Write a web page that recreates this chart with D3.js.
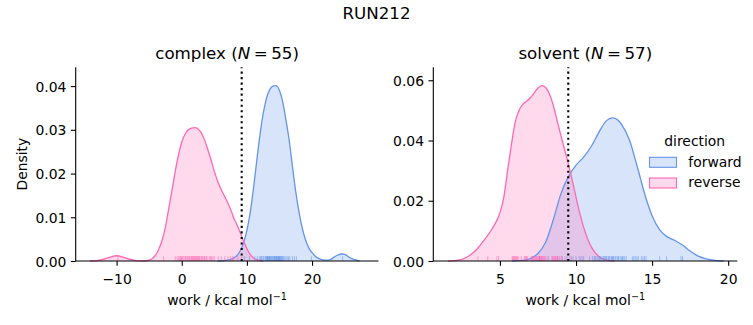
<!DOCTYPE html>
<html>
<head>
<meta charset="utf-8">
<script src="https://cdn.jsdelivr.net/npm/d3@7"></script>
<style>
  html, body { margin: 0; padding: 0; background: #fff; }
  svg { display: block; font-family: "DejaVu Sans", sans-serif; }
</style>
</head>
<body>
<svg id="chart" width="753" height="325"></svg>
<script>
// ---------------- DATA ----------------
const figureTitle = "RUN212";
const panelNames = ["complex", "solvent"];
const panelN = [55, 57];
const directions = ["forward", "reverse"];
const directionColors = ["#6495ED", "#FF69B4"];
const verticalLineX = [9.2, 9.49];

const complexXTicks = [-10, 0, 10, 20];
const complexYTicks = [0.00, 0.01, 0.02, 0.03, 0.04];
const solventXTicks = [5, 10, 15, 20];
const solventYTicks = [0.00, 0.02, 0.04, 0.06];

// KDE curves (work value, density)
const complexForwardX = [5.5, 6.5, 7.5, 8, 8.5, 9, 9.5, 10, 10.5, 11, 11.5, 12, 12.5, 13, 13.5, 14, 14.4, 15, 15.5, 16, 16.5, 17, 17.5, 18, 18.5, 19, 19.5, 20, 20.5, 21, 21.5, 22, 22.5, 23, 23.5, 24, 24.6, 25, 25.5, 26, 26.5, 27.3];
const complexForwardD = [0, 0.0001, 0.0004, 0.0007, 0.0013, 0.0024, 0.0042, 0.0070, 0.0110, 0.0165, 0.0228, 0.0288, 0.0337, 0.0372, 0.0392, 0.0400, 0.0401, 0.0390, 0.0364, 0.0322, 0.0275, 0.0215, 0.0158, 0.0112, 0.0075, 0.0048, 0.0030, 0.0019, 0.0011, 0.0006, 0.0003, 0.0002, 0.0002, 0.0005, 0.0010, 0.0014, 0.0016, 0.0015, 0.0011, 0.0006, 0.0003, 0];

const complexReverseX = [-14.1, -13, -12, -11, -10, -9, -8, -7, -6, -5, -4, -3.5, -3, -2.5, -2, -1.5, -1, -0.5, 0, 0.5, 1, 1.5, 2, 2.5, 3, 3.5, 4, 4.5, 5, 5.5, 6, 6.5, 7, 7.5, 8, 8.5, 9, 9.5, 10, 10.5, 11, 11.5, 12.5];
const complexReverseD = [0, 0.0001, 0.0004, 0.0009, 0.0012, 0.0009, 0.0004, 0.0001, 0.0000, 0.0002, 0.0014, 0.0028, 0.0048, 0.0078, 0.0120, 0.0162, 0.0205, 0.0243, 0.0272, 0.0290, 0.0300, 0.0304, 0.0305, 0.0302, 0.0293, 0.0277, 0.0255, 0.0231, 0.0205, 0.0183, 0.0165, 0.0150, 0.0135, 0.0118, 0.0098, 0.0082, 0.0064, 0.0045, 0.0028, 0.0015, 0.0007, 0.0003, 0];

const solventForwardX = [5.8, 6.5, 7, 7.5, 8, 8.5, 9, 9.5, 10, 10.5, 11, 11.5, 12, 12.4, 12.75, 13, 13.5, 14, 14.5, 15, 15.5, 16, 16.5, 17, 17.5, 18, 18.5, 19, 19.7];
const solventForwardD = [0, 0.0002, 0.0008, 0.0025, 0.0062, 0.0136, 0.0222, 0.0280, 0.0318, 0.0345, 0.0380, 0.0427, 0.0466, 0.0475, 0.0468, 0.0453, 0.0403, 0.0318, 0.0225, 0.0150, 0.0103, 0.0080, 0.0068, 0.0053, 0.0033, 0.0017, 0.0008, 0.0003, 0];

const solventReverseX = [1.6, 2, 2.5, 3, 3.5, 4, 4.5, 5, 5.25, 5.5, 5.75, 6, 6.25, 6.5, 6.75, 7, 7.25, 7.5, 7.75, 8, 8.25, 8.5, 8.75, 9, 9.25, 9.5, 9.75, 10, 10.25, 10.5, 10.75, 11, 11.5, 12, 12.5];
const solventReverseD = [0, 0.0001, 0.0005, 0.0018, 0.0040, 0.0072, 0.0108, 0.0160, 0.0210, 0.0300, 0.0385, 0.0460, 0.0500, 0.0520, 0.0530, 0.0542, 0.0558, 0.0574, 0.0582, 0.0576, 0.0555, 0.0518, 0.0468, 0.0418, 0.0370, 0.0322, 0.0268, 0.0212, 0.0158, 0.0112, 0.0075, 0.0047, 0.0015, 0.0003, 0];

// Rug samples (work values)
const complexForwardRug = [9.6, 10.4, 11.2, 11.6, 11.9, 12.1, 12.2, 12.3, 12.5, 12.6, 12.8, 12.9, 13.0, 13.1, 13.15, 13.2, 13.3, 13.4, 13.45, 13.5, 13.6, 13.7, 13.8, 13.9, 14.0, 14.1, 14.2, 14.25, 14.3, 14.4, 14.5, 14.55, 14.6, 14.7, 14.8, 14.85, 14.9, 15.0, 15.05, 15.1, 15.2, 15.3, 15.4, 15.5, 15.6, 15.8, 16.0, 16.2, 16.4, 16.6, 17.0, 17.3, 17.6, 19.9, 24.7];
const complexReverseRug = [-9.8, -2.8, -1.0, -0.7, -0.5, -0.3, -0.2, -0.1, 0.0, 0.1, 0.3, 0.5, 0.6, 0.7, 0.9, 1.0, 1.1, 1.2, 1.4, 1.5, 1.6, 1.7, 1.8, 1.9, 2.0, 2.1, 2.2, 2.3, 2.4, 2.5, 2.6, 2.7, 2.8, 3.0, 3.1, 3.2, 3.4, 3.5, 3.6, 3.8, 4.0, 4.3, 4.4, 4.6, 4.8, 5.0, 5.6, 6.1, 6.6, 7.1, 7.5, 7.8, 8.0, 8.6, 9.2];
const solventForwardRug = [7.6, 8.2, 8.8, 9.1, 9.4, 9.6, 9.8, 10.0, 10.2, 10.4, 10.5, 10.9, 11.1, 11.2, 11.25, 11.3, 11.4, 11.5, 11.55, 11.6, 11.7, 11.8, 11.85, 11.9, 11.95, 12.0, 12.1, 12.15, 12.2, 12.3, 12.35, 12.4, 12.45, 12.5, 12.6, 12.7, 12.75, 12.8, 12.9, 13.0, 13.05, 13.1, 13.2, 13.3, 13.7, 13.8, 13.9, 14.0, 14.1, 14.3, 14.4, 14.5, 14.6, 15.5, 15.95, 16.9, 17.0];
const solventReverseRug = [3.55, 4.2, 4.8, 4.9, 5.8, 5.85, 5.9, 5.95, 6.0, 6.05, 6.1, 6.15, 6.2, 6.4, 6.6, 6.65, 6.7, 6.75, 6.8, 7.05, 7.1, 7.15, 7.2, 7.25, 7.3, 7.35, 7.4, 7.45, 7.5, 7.55, 7.6, 7.6, 7.65, 7.7, 7.7, 7.75, 7.8, 7.85, 7.9, 7.95, 8.0, 8.1, 8.4, 8.45, 8.5, 8.55, 8.6, 8.65, 8.7, 8.75, 8.8, 8.9, 8.95, 9.05, 9.27, 9.7, 10.3];

// ---------------- LAYOUT ----------------
const svg = d3.select("#chart");
const axTop = 67.3, axBottom = 261;
const panels = [
  {
    name: panelNames[0], n: panelN[0], left: 75.7, right: 378.5,
    xDomain: [-16.28, 30.2], yDomain: [0, 0.0443],
    xTicks: complexXTicks, yTicks: complexYTicks,
    curves: [[complexForwardX, complexForwardD], [complexReverseX, complexReverseD]],
    rugs: [complexForwardRug, complexReverseRug], vline: verticalLineX[0], ylabel: true
  },
  {
    name: panelNames[1], n: panelN[1], left: 433.3, right: 737.3,
    xDomain: [0.62, 20.6], yDomain: [0, 0.0643],
    xTicks: solventXTicks, yTicks: solventYTicks,
    curves: [[solventForwardX, solventForwardD], [solventReverseX, solventReverseD]],
    rugs: [solventForwardRug, solventReverseRug], vline: verticalLineX[1], ylabel: false, legend: true
  }
];

const fmtTick = v => (v < 0 ? "\u2212" : "") + Math.abs(v);

svg.append("text")
  .attr("x", 376.5).attr("y", 19)
  .attr("text-anchor", "middle")
  .attr("font-size", 16.7)
  .text(figureTitle);

panels.forEach(p => {
  const x = d3.scaleLinear().domain(p.xDomain).range([p.left, p.right]);
  const y = d3.scaleLinear().domain(p.yDomain).range([axBottom, axTop]);
  const g = svg.append("g");

  p.curves.forEach((c, i) => {
    const pts = c[0].map((v, k) => [v, c[1][k]]);
    const area = d3.area().x(d => x(d[0])).y0(y(0)).y1(d => y(d[1])).curve(d3.curveMonotoneX);
    g.append("path").datum(pts).attr("d", area)
      .attr("fill", directionColors[i]).attr("fill-opacity", 0.25).attr("stroke", "none");
  });
  p.curves.forEach((c, i) => {
    const pts = c[0].map((v, k) => [v, c[1][k]]);
    const line = d3.line().x(d => x(d[0])).y(d => y(d[1])).curve(d3.curveMonotoneX);
    g.append("path").datum(pts).attr("d", line)
      .attr("fill", "none").attr("stroke", directionColors[i]).attr("stroke-width", 1.3);
  });

  const rugH = 0.025 * (axBottom - axTop);
  p.rugs.forEach((r, i) => {
    g.selectAll(null).data(r).enter().append("line")
      .attr("x1", d => x(d)).attr("x2", d => x(d))
      .attr("y1", axBottom).attr("y2", axBottom - rugH)
      .attr("stroke", directionColors[i]).attr("stroke-opacity", 0.55).attr("stroke-width", 1);
  });

  g.append("line")
    .attr("x1", x(p.vline)).attr("x2", x(p.vline))
    .attr("y1", axBottom).attr("y2", axTop)
    .attr("stroke", "#000").attr("stroke-width", 2.08)
    .attr("stroke-dasharray", "2.08,3.43");

  const xAxis = d3.axisBottom(x).tickValues(p.xTicks).tickSize(4.86).tickPadding(4.4).tickFormat(fmtTick);
  const yAxis = d3.axisLeft(y).tickValues(p.yTicks).tickSize(4.86).tickPadding(4.4).tickFormat(d3.format(".2f"));
  const gx = svg.append("g").attr("transform", `translate(0,${axBottom})`).call(xAxis);
  const gy = svg.append("g").attr("transform", `translate(${p.left},0)`).call(yAxis);
  [gx, gy].forEach(a => {
    a.select(".domain").remove();
    a.selectAll(".tick line").attr("stroke", "#000").attr("stroke-width", 1.1);
    a.selectAll(".tick text").attr("fill", "#000").attr("font-size", 13.9)
      .attr("font-family", "DejaVu Sans, sans-serif");
  });
  gx.selectAll(".tick text").attr("dy", null).attr("y", 22.5);
  gy.selectAll(".tick text").attr("dy", "0.36em");
  svg.append("line").attr("x1", p.left).attr("x2", p.right).attr("y1", axBottom).attr("y2", axBottom)
    .attr("stroke", "#000").attr("stroke-width", 1.1);
  svg.append("line").attr("x1", p.left).attr("x2", p.left).attr("y1", axBottom + 0.55).attr("y2", axTop)
    .attr("stroke", "#000").attr("stroke-width", 1.1);

  const cx = (p.left + p.right) / 2;
  const t = svg.append("text").attr("x", cx).attr("y", 59).attr("text-anchor", "middle").attr("font-size", 16.7);
  t.append("tspan").text(p.name + " (");
  t.append("tspan").attr("font-style", "italic").text("N");
  t.append("tspan").attr("dx", 3.5).text("=");
  t.append("tspan").attr("dx", 3.5).text(p.n + ")");

  const xl = svg.append("text").attr("x", cx).attr("y", 305).attr("text-anchor", "middle").attr("font-size", 13.9);
  xl.append("tspan").text("work / kcal mol");
  xl.append("tspan").attr("font-size", 9.7).attr("dy", -5.5).text("\u22121");

  if (p.ylabel) {
    svg.append("text").attr("transform", `translate(27,${(axTop + axBottom) / 2}) rotate(-90)`)
      .attr("text-anchor", "middle").attr("font-size", 13.9).text("Density");
  }

  if (p.legend) {
    const lg = svg.append("g");
    lg.append("text").attr("x", 694.7).attr("y", 145.7).attr("text-anchor", "middle")
      .attr("font-size", 13.9).text("direction");
    const ys = [157.3, 178];
    directions.forEach((d, i) => {
      lg.append("rect").attr("x", 649.5).attr("y", ys[i]).attr("width", 27).attr("height", 10)
        .attr("fill", directionColors[i]).attr("fill-opacity", 0.25)
        .attr("stroke", directionColors[i]).attr("stroke-width", 1.1);
      lg.append("text").attr("x", 688.3).attr("y", ys[i] + 9.3).attr("font-size", 13.9).text(d);
    });
  }
});
</script>
</body>
</html>
